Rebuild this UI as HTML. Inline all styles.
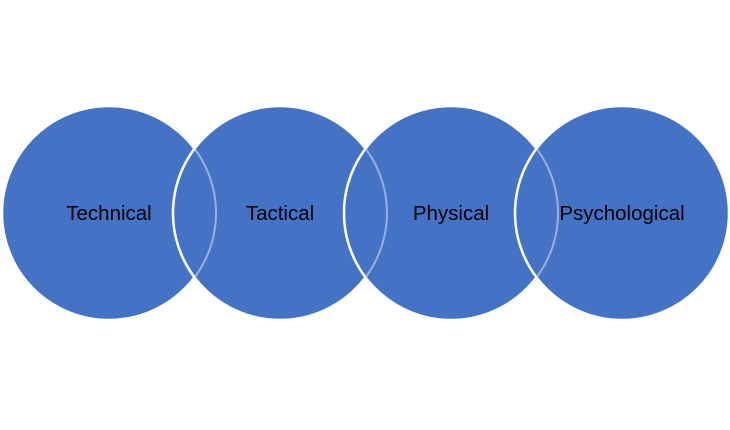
<!DOCTYPE html>
<html><head><style>body{margin:0;background:#fff}</style></head><body>
<svg width="730" height="425" xmlns="http://www.w3.org/2000/svg" font-family="Liberation Sans, sans-serif">
<g fill="#4472C4" stroke="#fff" stroke-width="2.5">
<circle cx="109" cy="213" r="107"/>
<circle cx="280" cy="213" r="107"/>
<circle cx="451" cy="213" r="107"/>
<circle cx="622" cy="213" r="107"/>
</g>
<g fill="none" stroke="#fff" stroke-width="2" opacity="0.45">
<circle cx="109" cy="213" r="107"/>
<circle cx="280" cy="213" r="107"/>
<circle cx="451" cy="213" r="107"/>
</g>
<g font-size="20.5" fill="#000" text-anchor="middle">
<text x="109" y="220">Technical</text>
<text x="280" y="220">Tactical</text>
<text x="451" y="220">Physical</text>
<text x="622" y="220">Psychological</text>
</g>
</svg>
</body></html>
